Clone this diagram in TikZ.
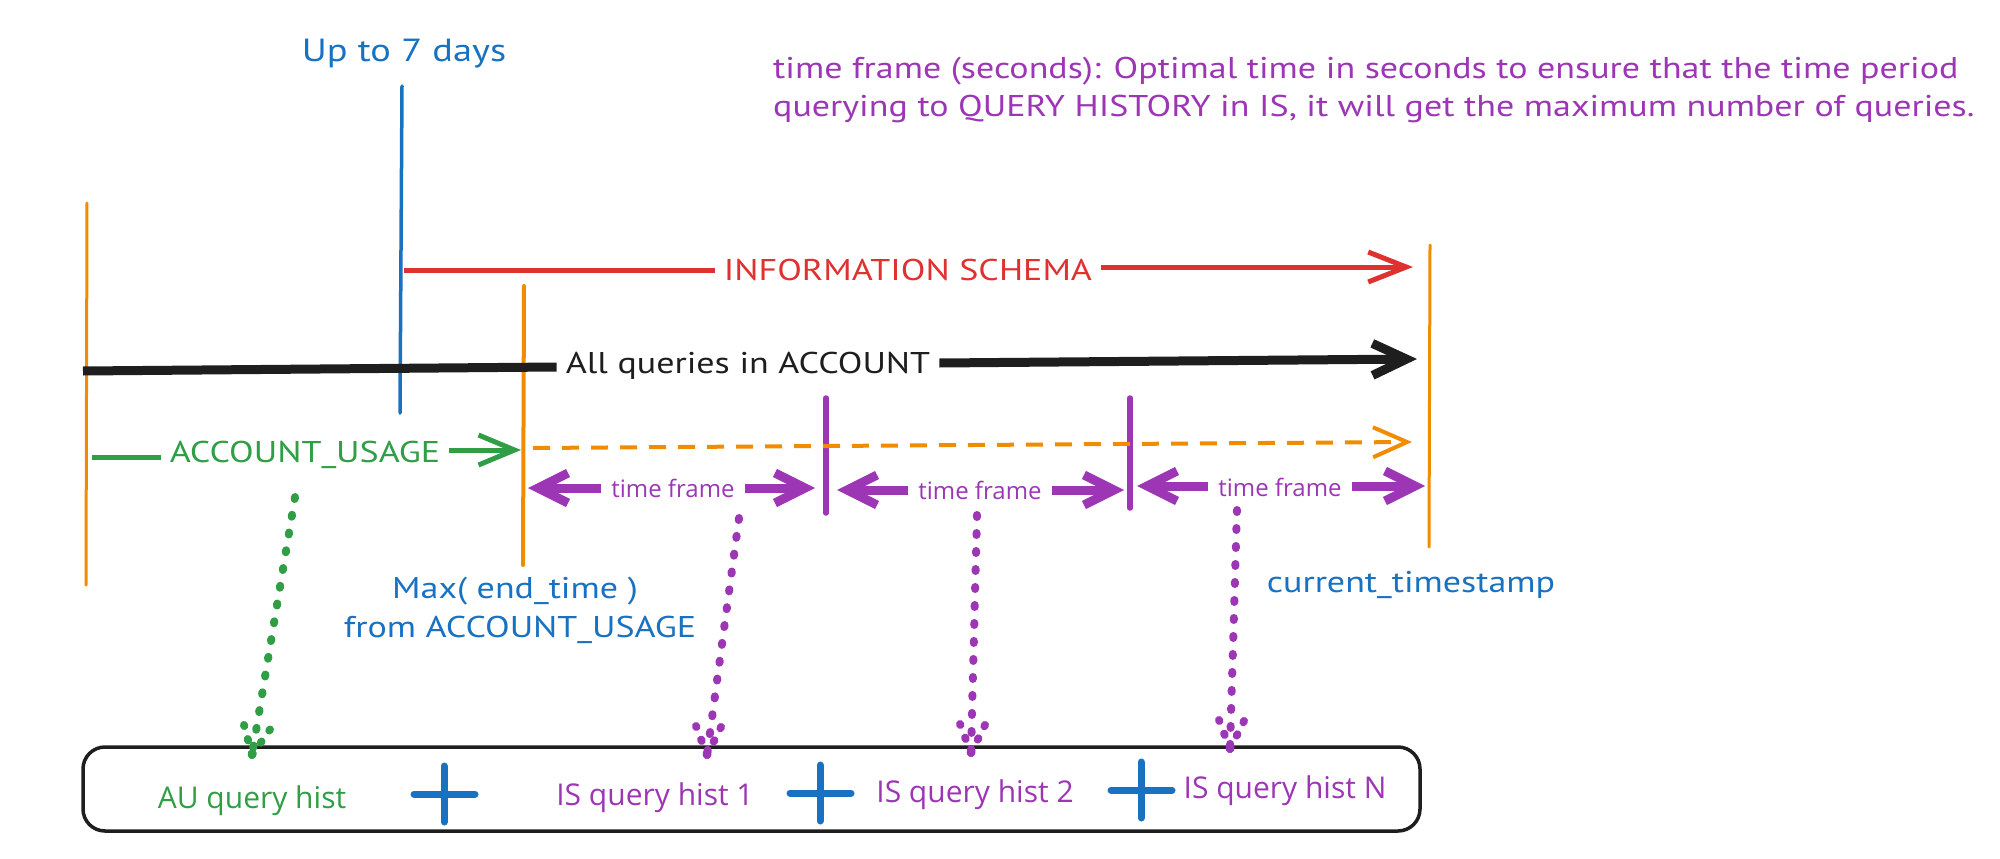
\documentclass[tikz,border=0pt]{standalone}
\usepackage{fontspec}
\setmainfont{PT Sans}
\newfontfamily\handfont[FakeStretch=1.2]{PT Sans}
\newfontfamily\boxfont{Open Sans}
\usetikzlibrary{arrows.meta}
\definecolor{exblue}{HTML}{1971C2}
\definecolor{exred}{HTML}{E03131}
\definecolor{exorange}{HTML}{F08C00}
\definecolor{exgreen}{HTML}{2F9E44}
\definecolor{expurple}{HTML}{9C36B5}
\definecolor{exblack}{HTML}{1E1E1E}
\begin{document}
\begin{tikzpicture}[x=1pt,y=-1pt,
  hand/.style={font=\handfont\fontsize{30}{36}\selectfont, inner sep=0pt},
  boxtxt/.style={font=\boxfont\fontsize{30}{36}\selectfont, inner sep=0pt},
  tftxt/.style={font=\boxfont\fontsize{24}{28}\selectfont, text=expurple, inner xsep=10pt, inner ysep=0pt},
  lbl/.style={hand, inner xsep=9pt},
  vline/.style={line width=3pt, line cap=round},
  barb/.style={-{Straight Barb[length=#1pt, width=30pt]}},
  tfarrow/.style={expurple, line width=9pt, -{Straight Barb[length=30pt, width=30pt]}},
  dotline/.style={line width=8pt, line cap=round, dash pattern=on 2pt off 16pt},
  wing/.style={line width=8pt, line cap=round, dash pattern=on 1.5pt off 13.5pt},
  plus/.style={exblue, line width=7pt, line cap=round},
]
\useasboundingbox (0,0) rectangle (2000,859);

% explanatory note
\node[hand, text=expurple, anchor=base west] (note1) at (773,78)
  {time frame (seconds): Optimal time in seconds to ensure that the time period};
\node[hand, text=expurple, anchor=base west] (note2) at (773,117)
  {querying to QUERY HISTORY in IS, it will get the maximum number of queries.};

% labels
\node[hand, text=exblue, anchor=base, font=\handfont\fontsize{32}{38}\selectfont] (up7) at (404,62) {Up to 7 days};
\node[hand, text=exblue, anchor=base] (maxend) at (515,598) {Max( end\_time )};
\node[hand, text=exblue, anchor=base] (fromau) at (520,637) {from ACCOUNT\_USAGE};
\node[hand, text=exblue, anchor=base] (curts) at (1411,592) {current\_timestamp};

% vertical markers
\coordinate (bTop) at (402,86);   \coordinate (bBot) at (400,413);
\coordinate (o1Top) at (87,203);  \coordinate (o1Bot) at (86,585);
\coordinate (o2Top) at (524,286); \coordinate (o2Bot) at (523,565);
\coordinate (o3Top) at (1430,245);\coordinate (o3Bot) at (1429,547);
\coordinate (t1Top) at (826,398); \coordinate (t1Bot) at (826,513);
\coordinate (t2Top) at (1130,398);\coordinate (t2Bot) at (1130,508);
\draw[vline, exblue, line width=3.5pt] (bTop) -- (bBot);
\draw[vline, exorange] (o1Top) -- (o1Bot);
\draw[vline, exorange, line width=4pt] (o2Top) -- (o2Bot);
\draw[vline, exorange] (o3Top) -- (o3Bot);
\draw[vline, expurple, line width=5.5pt] (t1Top) -- (t1Bot);
\draw[vline, expurple, line width=5.5pt] (t2Top) -- (t2Bot);

% INFORMATION SCHEMA
\node[lbl, text=exred, anchor=base] (is) at (908,280) {INFORMATION SCHEMA};
\coordinate (rS) at (404,270);
\coordinate (rT) at (1413,267);
\draw[exred, line width=5pt] (rS) -- (is.west |- rS);
\draw[exred, line width=5pt, barb=38] (is.east |- rT) -- (rT);

% All queries in ACCOUNT
\node[lbl, text=exblack, anchor=base] (all) at (748,373) {All queries in ACCOUNT};
\coordinate (kS) at (83,371);
\coordinate (kT) at (1417,359);
\draw[exblack, line width=9pt] (kS) -- (all.west |- 0,367);
\draw[exblack, line width=9pt, -{Straight Barb[length=34pt, width=32pt]}] (all.east |- 0,363) -- (kT);

% ACCOUNT_USAGE
\node[lbl, text=exgreen, anchor=base] (au) at (305,462) {ACCOUNT\_USAGE};
\coordinate (gS0) at (92,457);
\coordinate (gT0) at (521,450);
\draw[exgreen, line width=5pt] (gS0) -- (au.west |- gS0);
\draw[exgreen, line width=5pt, barb=36] (au.east |- gT0) -- (gT0);

% dashed orange
\coordinate (dS) at (533,448);
\coordinate (dT) at (1412,442);
\draw[exorange, line width=4pt, dash pattern=on 17pt off 12pt, -{Straight Barb[length=34pt, width=30pt]}] (dS) -- (dT);

% time frame arrows
\node[tftxt, anchor=base] (tf1) at (673,497) {time frame};
\node[tftxt, anchor=base] (tf2) at (980,499) {time frame};
\node[tftxt, anchor=base] (tf3) at (1280,496) {time frame};
\coordinate (tf1L) at (528,488); \coordinate (tf1R) at (815,488);
\coordinate (tf2L) at (837,490); \coordinate (tf2R) at (1124,490);
\coordinate (tf3L) at (1137,486); \coordinate (tf3R) at (1425,486);
\draw[tfarrow] (tf1.west |- tf1L) -- (tf1L);
\draw[tfarrow] (tf1.east |- tf1R) -- (tf1R);
\draw[tfarrow] (tf2.west |- tf2L) -- (tf2L);
\draw[tfarrow] (tf2.east |- tf2R) -- (tf2R);
\draw[tfarrow] (tf3.west |- tf3L) -- (tf3L);
\draw[tfarrow] (tf3.east |- tf3R) -- (tf3R);

% result box
\node[draw=exblack, line width=3.5pt, rounded corners=22pt, minimum width=1337pt, minimum height=84pt] (box) at (751.5,789) {};
\node[boxtxt, text=exgreen, anchor=base] (auq) at (252,808) {AU query hist};
\node[boxtxt, text=expurple, anchor=base] (is1) at (655,805) {IS query hist 1};
\node[boxtxt, text=expurple, anchor=base] (is2) at (975,802) {IS query hist 2};
\node[boxtxt, text=expurple, anchor=base] (isn) at (1285,798) {IS query hist N};
\coordinate (pl1) at (444,794);
\coordinate (pl2) at (820,793);
\coordinate (pl3) at (1141,790);
\foreach \p in {pl1,pl2,pl3}{
  \draw[plus] (\p) ++(-30,0) -- ++(61,0);
  \draw[plus] (\p) ++(0,-28) -- ++(0,56);
}

% dotted connectors
\coordinate (gS) at (295,497); \coordinate (gE) at (252,755);
\coordinate (p1S) at (739,518); \coordinate (p1E) at (707,755);
\coordinate (p2S) at (977,515); \coordinate (p2E) at (971,753);
\coordinate (p3S) at (1237,510); \coordinate (p3E) at (1230,749);
\draw[dotline, exgreen] (gS) -- (gE);
\draw[wing, exgreen] (gE) -- ++(-8,-30);
\draw[wing, exgreen] (gE) -- ++(18,-25.5);
\foreach \s/\e in {p1S/p1E, p2S/p2E, p3S/p3E}{
  \draw[dotline, expurple] (\s) -- (\e);
  \draw[wing, expurple] (\e) -- ++(-11,-29);
  \draw[wing, expurple] (\e) -- ++(14,-28);
}
\end{tikzpicture}
\end{document}
